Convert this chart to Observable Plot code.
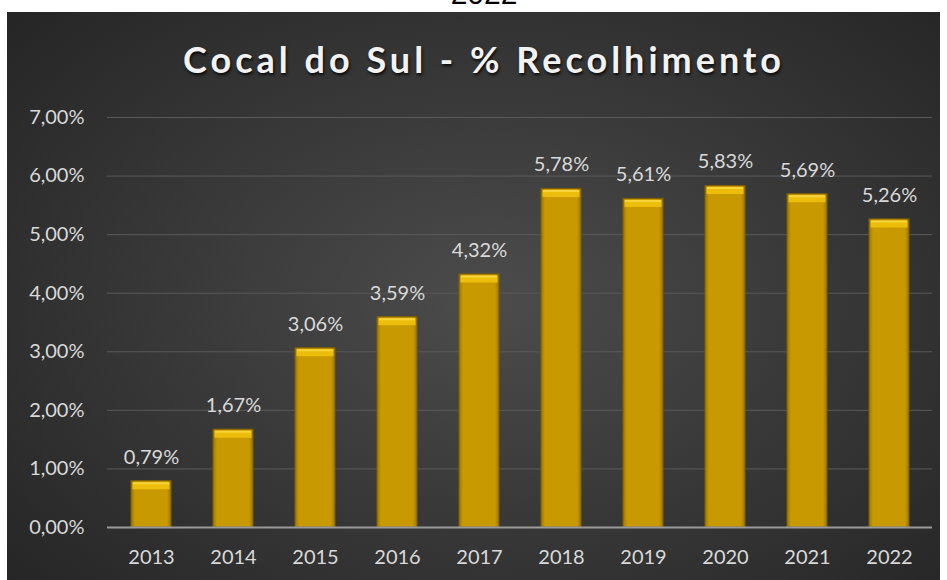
<!DOCTYPE html>
<html>
<head>
<meta charset="utf-8">
<script src="https://cdn.jsdelivr.net/npm/d3@7"></script>
<script src="https://cdn.jsdelivr.net/npm/@observablehq/plot@0.6"></script>
<style>
  html, body { margin: 0; padding: 0; background: #ffffff; }
  #page { position: relative; width: 947px; height: 580px; overflow: hidden; background: #ffffff; }
  #top { position: absolute; top: -21px; left: 484px; transform: translateX(-50%); line-height: 30px;
         font-family: "Liberation Sans", Arial, sans-serif; font-size: 30px; color: #000; white-space: nowrap; }
  #panel { position: absolute; left: 7px; top: 12px; width: 933px; height: 580px;
           background: radial-gradient(ellipse 70% 75% at 52% 50%, #4c4c4c 0%, #3a3a3a 45%, #252525 100%); }
  #title { position: absolute; top: 36px; left: 484px; transform: translateX(-50%); white-space: nowrap;
           font-family: Lato, "Open Sans", sans-serif; font-weight: 700; font-size: 36px; line-height: 46px;
           letter-spacing: 4px; color: #f2f2f2; text-shadow: 1px 2px 3px rgba(0,0,0,0.85); }
  #chart { position: absolute; left: 0; top: 0; }
</style>
</head>
<body>
<div id="page">
  <div id="top">2022</div>
  <div id="panel"></div>
  <div id="title">Cocal do Sul - % Recolhimento</div>
  <div id="chart"></div>
</div>
<script>
const years = ["2013","2014","2015","2016","2017","2018","2019","2020","2021","2022"];
const values = [0.0079, 0.0167, 0.0306, 0.0359, 0.0432, 0.0578, 0.0561, 0.0583, 0.0569, 0.0526];
const yTicks = [0, 0.01, 0.02, 0.03, 0.04, 0.05, 0.06, 0.07];

const data = years.map((y, i) => ({year: y, value: values[i]}));
const pct = d => (d * 100).toFixed(2).replace(".", ",") + "%";

const chart = Plot.plot({
  width: 947,
  height: 580,
  marginLeft: 107,
  marginRight: 15,
  marginTop: 117,
  marginBottom: 53,
  style: { background: "transparent", fontFamily: "Lato, 'Open Sans', sans-serif", fontSize: "20px", color: "#d9d9d9" },
  x: { domain: years, paddingInner: 0.515, paddingOuter: 0.2575, label: null, tickSize: 0, tickPadding: 22 },
  y: { domain: [0, 0.07], ticks: yTicks, tickFormat: pct, label: null, tickSize: 0, tickPadding: 23 },
  marks: [
    Plot.gridY(yTicks.filter(t => t > 0), { stroke: "#5a5a5a", strokeOpacity: 1, strokeWidth: 1 }),
    Plot.barY(data, { x: "year", y: "value", fill: "url(#goldH)", stroke: "#7f6000", strokeWidth: 1 }),
    Plot.tickY(data, { x: "year", y: "value", stroke: "#edbd0c", strokeWidth: 7, dy: 4.5, insetLeft: 1.5, insetRight: 1.5 }),
    Plot.tickY(data, { x: "year", y: "value", stroke: "#f7d43a", strokeWidth: 2, dy: 2, insetLeft: 2, insetRight: 2 }),
    Plot.ruleY([0], { stroke: "#9a9a9a", strokeWidth: 2 }),
    Plot.text(data, { x: "year", y: "value", text: d => pct(d.value), dy: -24, fill: "#d9d9d9", fontSize: 20 })
  ]
});

const ns = "http://www.w3.org/2000/svg";
const defs = document.createElementNS(ns, "defs");
defs.innerHTML = `
  <linearGradient id="goldH" x1="0" x2="1" y1="0" y2="0">
    <stop offset="0" stop-color="#9c7500"/>
    <stop offset="0.1" stop-color="#c89900"/>
    <stop offset="0.9" stop-color="#c89900"/>
    <stop offset="1" stop-color="#9c7500"/>
  </linearGradient>`;
chart.insertBefore(defs, chart.firstChild);
document.getElementById("chart").appendChild(chart);
</script>
</body>
</html>
